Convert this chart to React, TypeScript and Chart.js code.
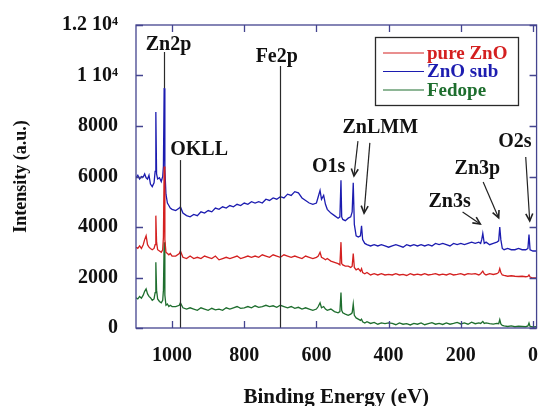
import React, { useEffect, useRef } from 'react';
import { Chart, registerables } from 'chart.js';

Chart.register(...registerables);

// ---- DATA ----
const energies = [
  1100, 1095, 1090, 1085, 1080, 1076, 1072, 1068, 1064, 1060, 1055, 1050, 1047, 1045, 1043, 1040, 1035, 1030, 1026, 1024, 1022, 1020, 1017, 1013, 1009, 1005, 1000,
  990, 980, 977, 970, 960, 950, 940, 930, 920, 910, 900, 890, 880, 870, 860, 850, 840, 830, 820, 810, 800, 790, 780, 770, 760, 750, 740, 730, 720, 710, 700, 690, 680, 670, 660, 650, 640, 630, 620, 610,
  600, 595, 590, 586, 580, 575, 570, 560, 550, 540, 535, 532, 530, 527, 520, 512, 505, 501, 498, 495, 490, 484, 478, 475, 472, 466, 460, 450, 440, 430, 420, 410, 400,
  390, 380, 370, 360, 350, 340, 330, 320, 310, 300, 290, 280, 270, 260, 250, 240, 230, 220, 210, 200, 190, 180, 170, 160, 150, 145, 142, 139, 135, 130, 120, 110, 100, 95, 92, 89, 85, 80, 70, 60, 50, 40, 30, 20, 14, 11, 8, 0, -10,
];

const pureZnO = [
  3200, 3150, 3250, 3150, 3300, 3500, 3650, 3300, 3200, 3150, 3100, 3150, 3300, 4450, 3400, 3100, 3050, 3000, 3100, 3600, 6400, 3500, 3000, 2950, 2900, 2950, 2850,
  2850, 2950, 3050, 2800, 2750, 2850, 2750, 2800, 2750, 2850, 2800, 2750, 2850, 2700, 2750, 2800, 2750, 2800, 2850, 2750, 2800, 2850, 2800, 2850, 2800, 2900, 2850, 2800, 2900, 2850, 2800, 2900, 2850, 2800, 2850, 2800, 2750, 2850, 2800, 2750,
  2800, 2850, 3000, 2800, 2750, 2700, 2750, 2650, 2600, 2550, 2500, 3400, 2550, 2500, 2450, 2450, 2400, 2450, 2950, 2400, 2300, 2350, 2250, 2350, 2200, 2150, 2200, 2100, 2150, 2100, 2150, 2100, 2120,
  2100, 2150, 2100, 2120, 2080, 2150, 2100, 2130, 2100, 2150, 2100, 2120, 2150, 2100, 2130, 2100, 2150, 2100, 2120, 2150, 2100, 2150, 2130, 2150, 2100, 2150, 2200, 2250, 2150, 2100, 2150, 2120, 2150, 2200, 2350, 2200, 2100, 2080, 2050, 2070, 2050, 2040, 2050, 2030, 2040, 2100, 2020, 1980, 1980,
];

const znoSub = [
  5950, 6050, 5900, 6000, 5980, 6100, 5950, 5900, 6050, 5700, 5600, 5750, 6200, 8550, 6100, 5900, 5950, 5800, 6000, 6400, 9500, 6300, 5300, 4950, 4850, 4750, 4700,
  4650, 4750, 4800, 4550, 4450, 4400, 4500, 4450, 4600, 4550, 4650, 4600, 4750, 4700, 4800, 4750, 4850, 4800, 4900, 4850, 4950, 4900, 5000, 4950, 5000, 4950, 5100, 5050, 5150, 5100, 5200, 5150, 5300, 5250, 5400, 5350, 5150, 5050, 4950, 4900,
  4950, 5200, 5450, 5100, 5250, 4900, 4700, 4550, 4450, 4350, 4400, 5850, 4400, 4300, 4250, 4350, 4400, 4600, 5750, 4100, 3650, 3600, 3650, 4050, 3500, 3350, 3300, 3250, 3300, 3250, 3300, 3250, 3200,
  3250, 3300, 3250, 3200, 3300, 3250, 3300, 3250, 3300, 3250, 3300, 3250, 3350, 3300, 3350, 3300, 3250, 3350, 3300, 3350, 3300, 3350, 3400, 3350, 3400, 3350, 3500, 3750, 3350, 3400, 3300, 3350, 3400, 3450, 4000, 3500, 3150, 3100, 3150, 3100, 3100, 3150, 3100, 3100, 3150, 3700, 3100, 3050, 3050,
];

const feDope = [
  1200, 1150, 1250, 1180, 1300, 1450, 1550, 1350, 1250, 1200, 1100, 1150, 1400, 2600, 1500, 1150, 1050, 1000, 1100, 1500, 3400, 1300, 900, 950, 850, 900, 850,
  850, 900, 1000, 800, 750, 800, 750, 700, 800, 750, 700, 780, 720, 750, 700, 800, 750, 800, 850, 780, 800, 850, 800, 880, 820, 850, 900, 850, 880, 820, 900, 850, 800, 850, 780, 820, 750, 800, 750, 700,
  750, 850, 1000, 800, 850, 750, 700, 750, 650, 600, 650, 1400, 700, 600, 550, 500, 550, 600, 950, 500, 400, 350, 300, 350, 250, 200, 250, 180, 220, 150, 200, 170, 200,
  180, 130, 200, 150, 170, 120, 180, 150, 200, 130, 170, 210, 150, 180, 140, 200, 150, 180, 220, 160, 200, 150, 230, 170, 200, 180, 220, 260, 180, 200, 170, 150, 180, 170, 330, 160, 100, 80, 60, 80, 50, 70, 60, 50, 80, 200, 60, 40, 50,
];

const seriesLabels = ['pure ZnO', 'ZnO sub', 'Fedope'];
const seriesColors = ['#d42020', '#1c1cb0', '#1e6e2e'];

const xTickValues = [1000, 800, 600, 400, 200, 0];
const xTickLabels = ['1000', '800', '600', '400', '200', '0'];
const yTickValues = [0, 2000, 4000, 6000, 8000, 10000, 12000];
const yTickLabels = ['0', '2000', '4000', '6000', '8000', '1 10\u2074', '1.2 10\u2074'];

// peak marker lines: energy, top intensity, bottom intensity
const markerLineE = [1022, 700, 977];
const markerLineTop = [10930, 10375, 6650];
const markerLineBottom = [9500, 0, 0];

// peak label texts and anchor (energy, intensity) at text baseline centre
const peakLabelText = ['Zn2p', 'Fe2p', 'OKLL', 'O1s', 'ZnLMM', 'O2s', 'Zn3p', 'Zn3s'];
const peakLabelE = [1010, 710, 925, 566, 423, 50, 154, 231];
const peakLabelI = [11000, 10530, 6850, 6180, 7720, 7170, 6100, 4790];

// arrows: from (E1, I1) to (E2, I2)
const arrowFromE = [485, 452, 195, 138, 20];
const arrowFromI = [7400, 7330, 4590, 5780, 6770];
const arrowToE = [496, 468, 146, 95, 9];
const arrowToI = [6020, 4550, 4120, 4360, 4240];

const FONT = '"Liberation Serif", "Times New Roman", Times, serif';
const FRAME = '#44448f';

const overlayPlugin = {
  id: 'overlay',
  afterDatasetsDraw(chart: any) {
    const { ctx, chartArea: a, scales } = chart;
    const x = scales.x;
    const y = scales.y;
    ctx.save();

    // vertical marker lines
    ctx.strokeStyle = '#2a2a2a';
    ctx.lineWidth = 1.2;
    for (let i = 0; i < markerLineE.length; i++) {
      const px = Math.round(x.getPixelForValue(markerLineE[i])) + 0.5;
      ctx.beginPath();
      ctx.moveTo(px, y.getPixelForValue(markerLineTop[i]));
      ctx.lineTo(px, y.getPixelForValue(markerLineBottom[i]));
      ctx.stroke();
    }

    // arrows
    ctx.strokeStyle = '#222';
    for (let i = 0; i < arrowFromE.length; i++) {
      const x1 = x.getPixelForValue(arrowFromE[i]);
      const y1 = y.getPixelForValue(arrowFromI[i]);
      const x2 = x.getPixelForValue(arrowToE[i]);
      const y2 = y.getPixelForValue(arrowToI[i]);
      ctx.lineWidth = 1.2;
      ctx.beginPath();
      ctx.moveTo(x1, y1);
      ctx.lineTo(x2, y2);
      ctx.stroke();
      const ang = Math.atan2(y2 - y1, x2 - x1);
      const hl = 8;
      ctx.lineWidth = 1.6;
      ctx.beginPath();
      ctx.moveTo(x2 - hl * Math.cos(ang - 0.45), y2 - hl * Math.sin(ang - 0.45));
      ctx.lineTo(x2, y2);
      ctx.lineTo(x2 - hl * Math.cos(ang + 0.45), y2 - hl * Math.sin(ang + 0.45));
      ctx.stroke();
    }

    // peak labels
    ctx.fillStyle = '#111';
    ctx.font = `bold 20px ${FONT}`;
    ctx.textAlign = 'center';
    ctx.textBaseline = 'alphabetic';
    for (let i = 0; i < peakLabelText.length; i++) {
      ctx.fillText(peakLabelText[i], x.getPixelForValue(peakLabelE[i]), y.getPixelForValue(peakLabelI[i]));
    }

    // frame
    ctx.strokeStyle = FRAME;
    ctx.lineWidth = 1.3;
    ctx.strokeRect(a.left, a.top, a.right - a.left, a.bottom - a.top);

    // inward tick marks on all four sides
    const tl = 7;
    ctx.beginPath();
    for (const v of xTickValues) {
      const px = Math.round(x.getPixelForValue(v)) + 0.5;
      ctx.moveTo(px, a.bottom);
      ctx.lineTo(px, a.bottom - tl);
      ctx.moveTo(px, a.top);
      ctx.lineTo(px, a.top + tl);
    }
    for (const v of yTickValues) {
      const py = Math.round(y.getPixelForValue(v)) + 0.5;
      ctx.moveTo(a.left, py);
      ctx.lineTo(a.left + tl, py);
      ctx.moveTo(a.right, py);
      ctx.lineTo(a.right - tl, py);
    }
    ctx.stroke();

    // legend box
    const lx = 375.5, ly = 37.5, lw = 143, lh = 68;
    ctx.strokeStyle = '#2a2a2a';
    ctx.lineWidth = 1.3;
    ctx.strokeRect(lx, ly, lw, lh);
    ctx.font = `bold 19px ${FONT}`;
    ctx.textAlign = 'left';
    ctx.textBaseline = 'middle';
    chart.data.datasets.forEach((ds: any, i: number) => {
      const ry = 53 + i * 18.5;
      ctx.strokeStyle = ds.borderColor;
      ctx.lineWidth = 1.2;
      ctx.beginPath();
      ctx.moveTo(383, ry);
      ctx.lineTo(424, ry);
      ctx.stroke();
      ctx.fillStyle = ds.borderColor;
      ctx.fillText(ds.label, 427, ry + 1);
    });

    ctx.restore();
  },
};

export default function App() {
  const canvasRef = useRef<HTMLCanvasElement | null>(null);

  useEffect(() => {
    const canvas = canvasRef.current;
    if (!canvas) return;
    const seriesValues = [pureZnO, znoSub, feDope];
    const chart = new Chart(canvas, {
      type: 'line',
      data: {
        datasets: seriesValues.map((vals, i) => ({
          label: seriesLabels[i],
          data: energies.map((e, k) => ({ x: e, y: vals[k] })),
          borderColor: seriesColors[i],
          backgroundColor: seriesColors[i],
          borderWidth: 1.3,
          pointRadius: 0,
          tension: 0,
          fill: false,
        })),
      },
      options: {
        animation: false,
        responsive: false,
        devicePixelRatio: 1,
        layout: { padding: { top: 25, right: 4, left: 0, bottom: 0 } },
        plugins: {
          legend: { display: false },
          tooltip: { enabled: false },
          title: { display: false },
        },
        scales: {
          x: {
            type: 'linear',
            reverse: true,
            min: -10,
            max: 1100,
            grid: { display: false },
            border: { display: false },
            afterBuildTicks: (scale: any) => {
              scale.ticks = xTickValues.map((v) => ({ value: v }));
            },
            afterFit: (scale: any) => {
              scale.height = 78;
            },
            ticks: {
              autoSkip: false,
              maxRotation: 0,
              padding: 8,
              color: '#111',
              font: { family: FONT, size: 20, weight: 'bold' },
              callback: (v: any) => xTickLabels[xTickValues.indexOf(Number(v))],
            },
            title: {
              display: true,
              text: 'Binding Energy (eV)',
              color: '#111',
              font: { family: FONT, size: 21, weight: 'bold', lineHeight: 1 },
              padding: { top: 0, bottom: -2 },
            },
          },
          y: {
            type: 'linear',
            min: 0,
            max: 12000,
            grid: { display: false },
            border: { display: false },
            afterBuildTicks: (scale: any) => {
              scale.ticks = yTickValues.map((v) => ({ value: v }));
            },
            afterFit: (scale: any) => {
              scale.width = 136;
            },
            ticks: {
              autoSkip: false,
              padding: 10,
              color: '#111',
              font: { family: FONT, size: 20, weight: 'bold' },
              callback: (v: any) => yTickLabels[yTickValues.indexOf(Number(v))],
            },
            title: {
              display: true,
              text: 'Intensity (a.u.)',
              color: '#111',
              font: { family: FONT, size: 18, weight: 'bold' },
              padding: { top: 11, bottom: 0 },
            },
          },
        },
      },
      plugins: [overlayPlugin],
    });
    return () => chart.destroy();
  }, []);

  return (
    <div style={{ position: 'absolute', left: 0, top: 0, width: 546, height: 406, background: '#fff' }}>
      <canvas ref={canvasRef} width={546} height={406} style={{ width: 546, height: 406, display: 'block' }} />
    </div>
  );
}
